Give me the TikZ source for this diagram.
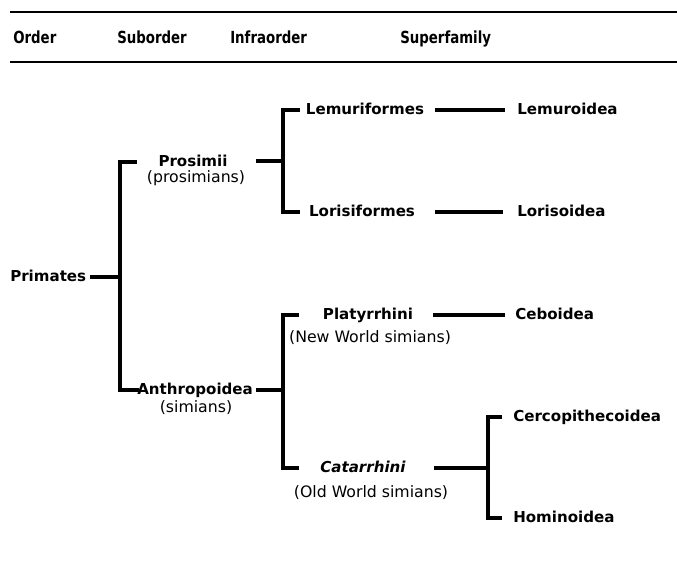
\documentclass[tikz,border=0pt]{standalone}
\usepackage{fontspec}
\setmainfont{DejaVu Sans}
\newfontfamily\headfont[FakeStretch=0.8]{DejaVu Sans}
\usepackage{tikz}
\usetikzlibrary{calc}
\tikzset{
  br/.style={line width=2.4pt,line cap=rect},
  hl/.style={line width=2pt},
  hd/.style={inner sep=0pt,font=\headfont\fontsize{12.5}{15}\selectfont\bfseries,text height=1.6ex,text depth=.4ex},
  tx/.style={inner sep=0pt,font=\fontsize{11.3}{13}\selectfont\bfseries,text height=1.6ex,text depth=.4ex},
  sub/.style={inner sep=0pt,font=\fontsize{11.8}{13}\selectfont,text height=1.6ex,text depth=.4ex}
}
\begin{document}
\begin{tikzpicture}[x=0.75pt,y=-0.75pt]
\useasboundingbox (0,0) rectangle (677,567);
% header
\draw[hl] (10,12) -- (677,12);
\draw[hl] (10,62) -- (677,62);
\node[hd,anchor=west] (hOrder) at (13,39) {Order};
\node[hd,anchor=west] (hSub) at (117,39) {Suborder};
\node[hd,anchor=west] (hInfra) at (230,39) {Infraorder};
\node[hd,anchor=west] (hSuper) at (400,39) {Superfamily};
% taxa
\node[tx,anchor=west] (primates) at (10,277) {Primates};
\node[tx] (prosimii) at (193,162) {Prosimii};
\node[sub] (prosimiiN) at (196,178) {(prosimians)};
\node[tx,anchor=west] (anthro) at (137,390) {Anthropoidea};
\node[sub] (anthroN) at (196,408) {(simians)};
\node[tx] (lemuri) at (365,110) {Lemuriformes};
\node[tx] (lorisi) at (362,212) {Lorisiformes};
\node[tx] (platy) at (368,315) {Platyrrhini};
\node[sub] (platyN) at (370,338) {(New World simians)};
\node[tx,font=\fontsize{11.3}{13}\selectfont\bfseries\itshape] (catar) at (363,468) {Catarrhini};
\node[sub] (catarN) at (371,493) {(Old World simians)};
\node[tx,anchor=west] (lemuroid) at (517,110) {Lemuroidea};
\node[tx,anchor=west] (lorisoid) at (517,212) {Lorisoidea};
\node[tx,anchor=west] (ceboid) at (515,315) {Ceboidea};
\node[tx,anchor=west] (cercop) at (513,417) {Cercopithecoidea};
\node[tx,anchor=west] (homin) at (513,518) {Hominoidea};
% junctions
\coordinate (j1) at (120,277);
\coordinate (j2) at (283,161);
\coordinate (j3) at (283,390);
\coordinate (j4) at (488,468);
% tree
\draw[br] ($(primates.east)+(5,0)$) -- (j1);
\draw[br] ($(j1|-prosimii)+(15,0)$) -| (j1) |- (anthro.west);
\draw[br] ($(j2)+(-25,0)$) -- (j2);
\draw[br] ($(j2|-lemuri)+(15,0)$) -| (j2) |- ($(j2|-lorisi)+(15,0)$);
\draw[br] ($(lemuroid.west)+(-80,0)$) -- ($(lemuroid.west)+(-14,0)$);
\draw[br] ($(lorisoid.west)+(-80,0)$) -- ($(lorisoid.west)+(-16,0)$);
\draw[br] ($(j3)+(-25,0)$) -- (j3);
\draw[br] ($(j3|-platy)+(14,0)$) -| (j3) |- ($(j3|-catar)+(14,0)$);
\draw[br] ($(ceboid.west)+(-80,0)$) -- ($(ceboid.west)+(-12,0)$);
\draw[br] ($(catar.east)+(30,0)$) -- (j4);
\draw[br] ($(j4|-cercop)+(12,0)$) -| (j4) |- ($(j4|-homin)+(12,0)$);
\end{tikzpicture}
\end{document}
